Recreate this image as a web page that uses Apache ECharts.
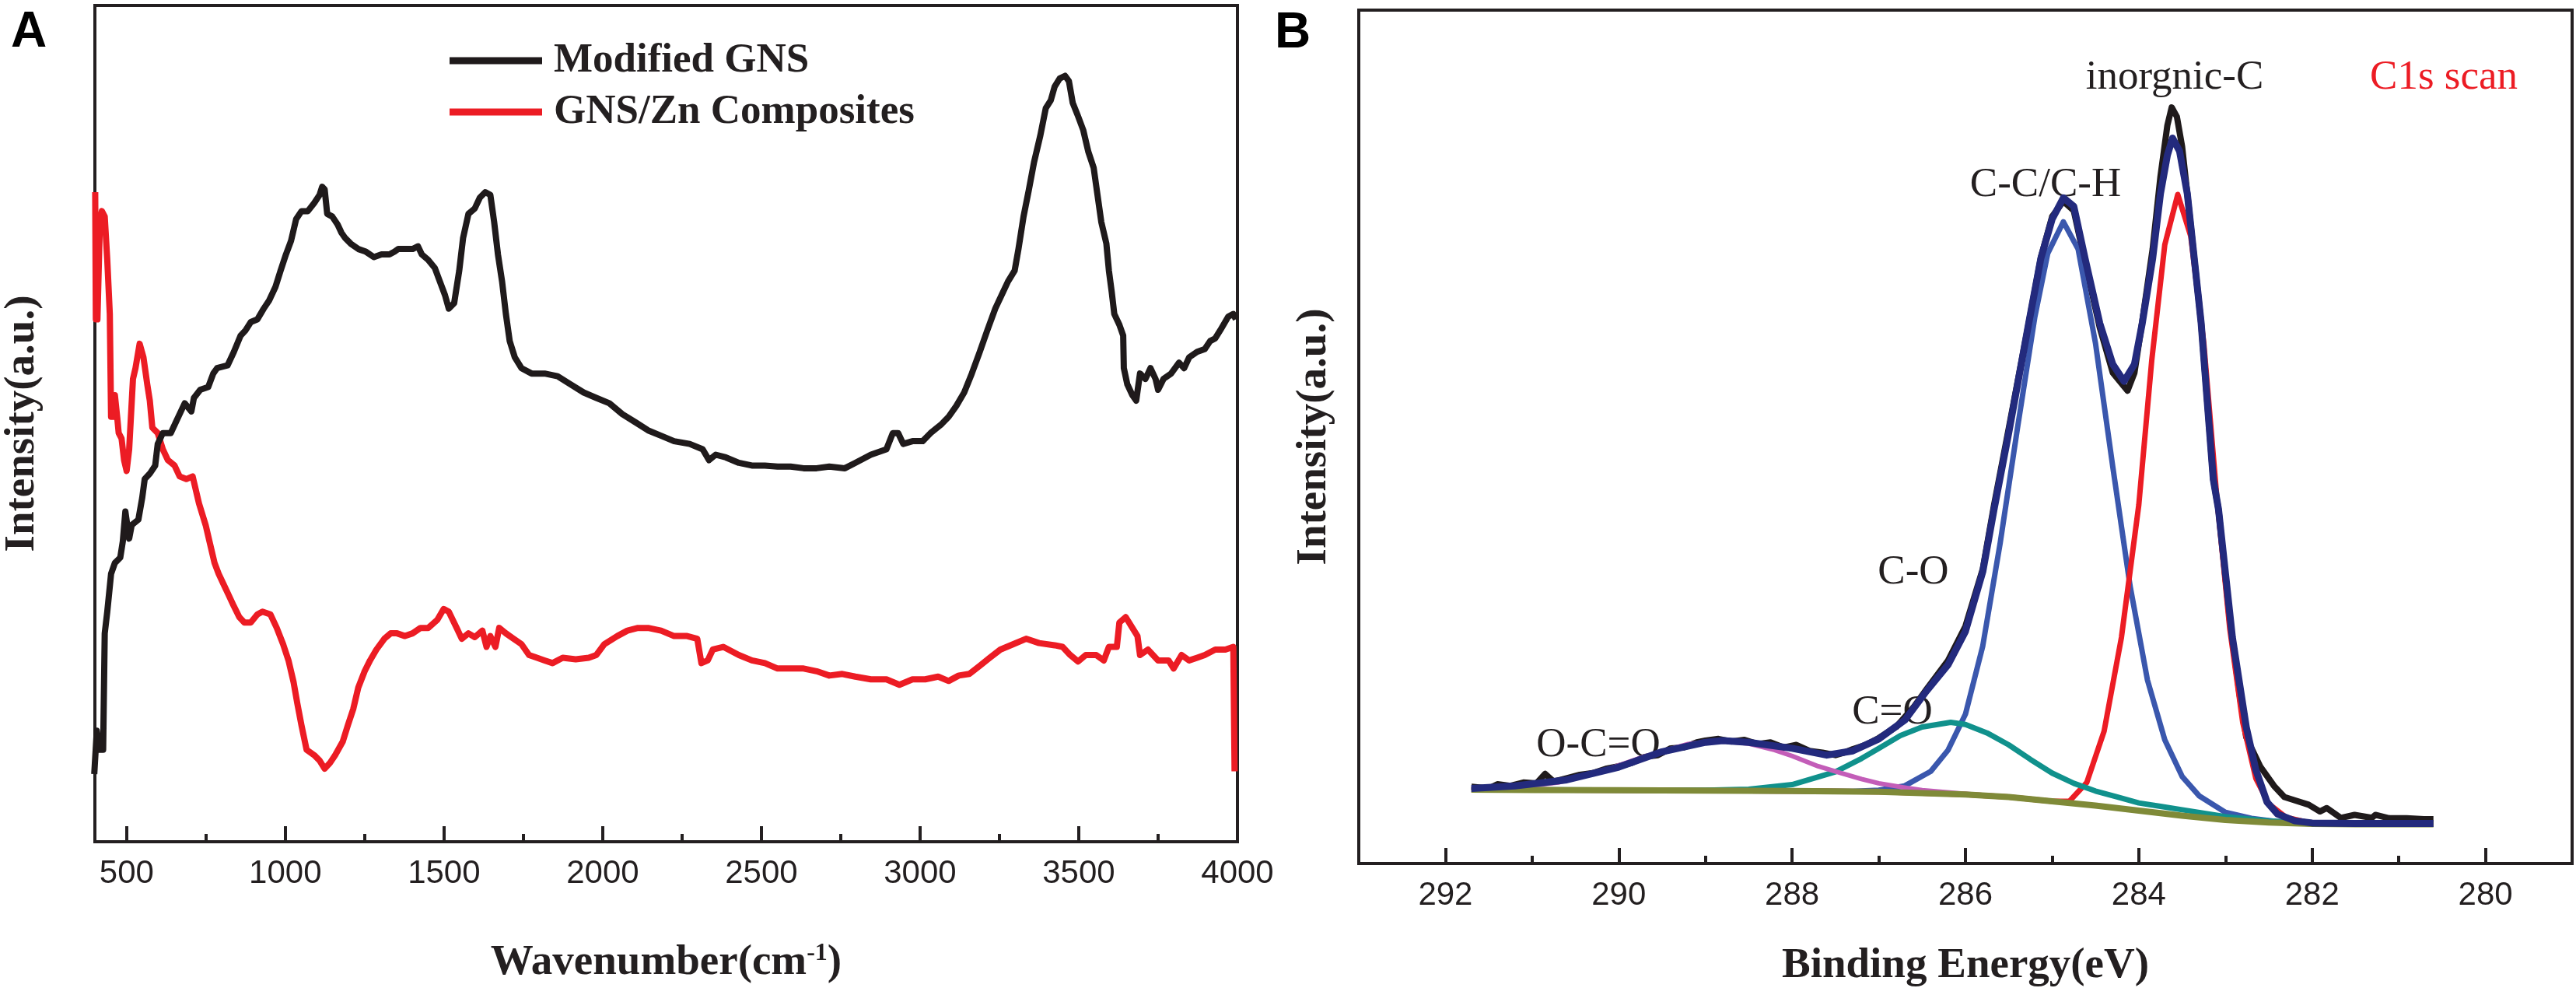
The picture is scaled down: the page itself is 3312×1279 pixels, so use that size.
<!DOCTYPE html>
<html>
<head>
<meta charset="utf-8">
<title>FTIR spectra and C1s XPS scan</title>
<script src="https://cdn.jsdelivr.net/npm/echarts@6/dist/echarts.min.js"></script>
<style>
  html, body { margin: 0; padding: 0; background: #fff; }
  #chart { width: 3312px; height: 1279px; }
</style>
</head>
<body>
<div id="chart"></div>
<script>
// ---- panel A: FTIR, [wavenumber cm-1, intensity a.u.] ----
const modifiedGNS = [
  [398,125],[406,205],[414,170],[426,170],[431,385],[439,425],[451,495],[463,515],[480,525],[488,555],
  [496,610],[508,560],[516,585],[537,595],[549,635],[557,670],[573,680],[590,695],[598,735],[614,755],
  [639,755],[655,775],[683,810],[704,795],[712,820],[732,835],[757,840],[773,865],[785,875],[818,880],
  [838,905],[859,935],[875,945],[891,960],[912,965],[932,985],[949,1000],[969,1025],[985,1055],[1002,1085],
  [1018,1110],[1034,1150],[1051,1165],[1071,1165],[1091,1180],[1108,1195],[1116,1210],[1124,1205],[1132,1160],[1148,1155],
  [1165,1140],[1177,1125],[1189,1115],[1206,1105],[1230,1095],[1254,1090],[1279,1080],[1303,1085],[1328,1085],[1344,1090],
  [1356,1095],[1377,1095],[1401,1095],[1418,1100],[1430,1085],[1450,1075],[1471,1060],[1487,1035],[1503,1010],[1515,985],
  [1532,995],[1548,1055],[1560,1115],[1577,1160],[1597,1170],[1613,1190],[1630,1200],[1646,1195],[1658,1145],[1670,1085],
  [1683,1035],[1695,975],[1707,925],[1723,895],[1744,875],[1776,865],[1817,865],[1858,860],[1899,845],[1940,830],
  [1980,820],[2021,810],[2062,790],[2103,775],[2143,760],[2184,750],[2225,740],[2274,735],[2315,725],[2335,705],
  [2356,715],[2388,710],[2429,700],[2470,695],[2511,695],[2551,693],[2592,693],[2633,690],[2674,690],[2714,693],
  [2763,690],[2796,700],[2845,715],[2894,725],[2914,755],[2931,755],[2947,735],[2976,740],[3008,740],[3033,755],
  [3065,770],[3090,785],[3114,805],[3139,830],[3163,865],[3188,905],[3212,945],[3237,985],[3257,1010],[3277,1035],
  [3298,1055],[3310,1095],[3326,1155],[3343,1205],[3359,1255],[3379,1305],[3396,1355],[3412,1370],[3424,1395],[3440,1410],
  [3457,1415],[3469,1405],[3481,1365],[3498,1340],[3514,1315],[3530,1275],[3547,1245],[3559,1195],[3571,1145],[3587,1105],
  [3595,1055],[3604,1015],[3612,975],[3628,955],[3640,935],[3642,875],[3653,845],[3669,825],[3681,815],[3693,865],
  [3710,855],[3726,875],[3742,855],[3750,835],[3767,855],[3791,865],[3816,885],[3832,875],[3848,895],[3873,905],
  [3897,910],[3914,925],[3930,930],[3946,945],[3971,970],[3987,975],[3995,965]
];
const gnsZnComposites = [
  [401,1200],[403,965],[408,965],[416,1150],[422,1165],[431,1155],[439,1075],[447,975],[451,785],[459,785],
  [463,825],[471,780],[475,755],[484,745],[492,705],[500,685],[508,725],[520,855],[528,875],[541,920],
  [553,895],[565,845],[573,815],[581,765],[598,755],[614,725],[630,705],[651,695],[667,675],[688,670],
  [708,675],[728,625],[749,585],[761,555],[777,515],[790,495],[806,475],[822,455],[838,435],[855,415],
  [871,405],[891,405],[912,420],[928,425],[953,420],[973,395],[993,365],[1010,335],[1026,295],[1038,255],
  [1051,215],[1067,170],[1091,160],[1108,150],[1124,135],[1140,145],[1157,160],[1181,185],[1197,215],[1214,245],
  [1230,285],[1250,315],[1267,335],[1287,355],[1312,375],[1332,385],[1352,385],[1377,380],[1401,385],[1426,395],
  [1450,395],[1479,410],[1499,430],[1515,425],[1540,395],[1556,375],[1577,385],[1597,378],[1621,390],[1634,360],
  [1646,380],[1662,360],[1674,395],[1695,385],[1719,375],[1744,365],[1768,345],[1793,340],[1817,335],[1842,330],
  [1874,340],[1915,337],[1956,340],[1980,345],[2005,365],[2046,380],[2078,390],[2111,395],[2143,395],[2184,390],
  [2225,380],[2266,380],[2298,375],[2311,330],[2331,335],[2347,355],[2380,360],[2429,345],[2470,335],[2511,330],
  [2551,320],[2592,320],[2633,320],[2674,315],[2714,307],[2755,310],[2796,305],[2845,300],[2894,300],[2935,290],
  [2976,300],[3016,300],[3057,305],[3090,297],[3122,307],[3155,310],[3188,325],[3220,340],[3253,355],[3294,365],
  [3334,375],[3375,367],[3424,363],[3449,360],[3473,345],[3498,333],[3522,345],[3555,345],[3579,335],[3595,360],
  [3620,360],[3628,405],[3648,415],[3669,395],[3685,380],[3693,345],[3718,355],[3750,335],[3783,335],[3799,320],
  [3824,345],[3848,335],[3873,340],[3897,345],[3930,355],[3962,355],[3987,360],[3991,130]
];
const ftirLabelValues = [500, 1000, 1500, 2000, 2500, 3000, 3500, 4000];
const ftirMinorTicks = [750, 1250, 1750, 2250, 2750, 3250, 3750];

// ---- panel B: C1s XPS, [binding energy eV, intensity a.u.] ----
const c1sRaw = [
  [291.7,9.0],[291.5,8.8],[291.4,9.3],[291.25,9.1],[291.1,9.5],[290.95,9.4],[290.85,10.5],[290.75,9.6],[290.6,10.0],[290.45,10.4],
  [290.3,10.6],[290.15,11.1],[290,11.4],[289.85,11.8],[289.7,12.5],[289.55,12.7],[289.4,13.5],[289.25,13.6],[289.1,14.2],[289,14.4],
  [288.85,14.6],[288.7,14.3],[288.55,14.5],[288.4,14.0],[288.25,14.2],[288.1,13.6],[287.95,13.9],[287.8,13.2],[287.65,13.0],[287.5,12.7],
  [287.4,13.0],[287.3,13.4],[287.15,13.9],[287,14.7],[286.8,16],[286.6,18.3],[286.45,20.4],[286.2,23.8],[286,27.8],[285.8,34.5],
  [285.67,42],[285.5,51],[285.27,63.3],[285.13,71],[285,75.8],[284.87,77.6],[284.75,76.5],[284.62,70.5],[284.45,62.8],[284.3,57.5],
  [284.13,55.4],[284.05,57.5],[283.96,63.5],[283.84,72],[283.75,80.5],[283.67,86.5],[283.62,88.6],[283.56,87.5],[283.5,84],[283.44,78.5],
  [283.28,63.3],[283.14,45],[283.08,41.5],[282.95,28.5],[282.84,20],[282.76,14.8],[282.6,11.4],[282.44,9.1],[282.32,7.8],[282.2,7.4],
  [282.04,6.9],[281.91,6.1],[281.83,6.5],[281.67,5.35],[281.51,5.7],[281.31,5.35],[281.27,5.7],[281.11,5.3],[280.91,5.3],[280.71,5.2],
  [280.6,5.2]
];
const c1sEnvelope = [
  [291.7,8.8],[291.2,9.1],[290.6,9.8],[290,11.3],[289.5,13.1],[289,14.2],[288.8,14.4],[288.5,14.2],[288,13.5],[287.6,12.7],
  [287.3,13.2],[287,14.6],[286.7,16.8],[286.45,20.2],[286.2,23.3],[286,27.2],[285.8,34.2],[285.67,41.5],[285.5,50.5],[285.27,63.3],
  [285.13,70.9],[285,75.5],[284.87,78],[284.75,77],[284.62,70.9],[284.45,63.3],[284.3,58.5],[284.17,56.5],[284.05,58.5],[283.96,63.3],
  [283.84,70.9],[283.75,78.5],[283.67,83],[283.61,85],[283.53,83.5],[283.44,78.5],[283.28,63.3],[283.14,45],[283.08,41.5],[282.92,26.5],
  [282.76,16],[282.65,11],[282.52,7.2],[282.4,5.8],[282.2,5.0],[282,4.75],[281.5,4.7],[280.6,4.7]
];
const inorganicC = [
  [291.7,8.65],[290,8.6],[289,8.55],[288,8.5],[287,8.4],[286,8.1],[285.5,7.8],[285,7.3],[284.8,7.3],[284.6,9.5],
  [284.4,15.5],[284.2,26.5],[284,42],[283.85,59],[283.7,72.5],[283.55,78.4],[283.4,73.5],[283.25,61],[283.1,43],[282.95,27.5],
  [282.8,16.5],[282.65,10],[282.5,7.0],[282.3,5.4],[282,4.7],[281.5,4.6],[280.6,4.6]
];
const ccCh = [
  [291.7,8.65],[289,8.55],[288,8.5],[287.3,8.45],[287,8.6],[286.7,9.1],[286.4,10.8],[286.2,13.3],[286,17.5],[285.8,25.5],
  [285.6,37.5],[285.4,51],[285.2,64],[285.05,71.5],[284.87,75.2],[284.7,72],[284.5,61],[284.3,46.5],[284.1,32.5],[283.9,21.5],
  [283.7,14.5],[283.5,10.2],[283.3,7.9],[283,6.0],[282.7,5.3],[282.4,4.9],[282,4.65],[280.6,4.6]
];
const cO = [
  [291.7,8.65],[289.5,8.6],[289,8.6],[288.5,8.7],[288,9.25],[287.5,10.75],[287.2,12.3],[287,13.5],[286.75,15.0],[286.5,16.0],
  [286.17,16.55],[286,16.3],[285.75,15.3],[285.5,13.9],[285.25,12.2],[285,10.6],[284.75,9.4],[284.5,8.5],[284.25,7.8],[284,7.1],
  [283.75,6.7],[283.5,6.3],[283,5.5],[282.5,5.0],[282,4.75],[281.5,4.65],[280.6,4.6]
];
const ocoCo = [
  [291.7,8.65],[291.2,8.9],[290.7,9.5],[290.2,10.8],[289.7,12.55],[289.2,14.0],[288.85,14.4],[288.5,14.05],[288.2,13.3],[288,12.6],
  [287.7,11.4],[287.5,10.8],[287.2,9.9],[287,9.4],[286.7,8.9],[286.5,8.6],[286,8.15],[285.5,7.8],[285,7.3],[284.5,6.8],
  [284,6.2],[283.5,5.6],[283,5.1],[282.5,4.8],[282,4.65],[280.6,4.6]
];
const background = [
  [291.7,8.65],[291,8.62],[290,8.6],[289,8.55],[288,8.5],[287,8.4],[286.5,8.25],[286,8.1],[285.5,7.8],[285,7.3],
  [284.5,6.8],[284,6.2],[283.5,5.6],[283,5.1],[282.5,4.8],[282,4.65],[281.5,4.6],[280.6,4.6]
];
const xpsLabelValues = [280, 282, 284, 286, 288, 290, 292];
const xpsMinorTicks = [281, 283, 285, 287, 289, 291];

const INK = '#231f20';
const SERIF = '"Liberation Serif", "Times New Roman", serif';
const SANS = '"Liberation Sans", Arial, sans-serif';

const chart = echarts.init(document.getElementById('chart'));

function bottomAxis(gridIndex, min, max, inverse, majors, labels) {
  return {
    type: 'value', gridIndex, min, max, inverse, position: 'bottom',
    axisLine: { lineStyle: { color: INK, width: 4 } },
    axisTick: { inside: true, length: 20, customValues: majors, lineStyle: { color: INK, width: 4 } },
    axisLabel: {
      customValues: labels, margin: 20, color: INK, fontSize: 42, fontFamily: SANS,
      formatter: v => String(v)
    },
    splitLine: { show: false }
  };
}
function minorAxis(gridIndex, min, max, inverse, ticks) {
  return {
    type: 'value', gridIndex, min, max, inverse, position: 'bottom',
    axisLine: { show: false },
    axisTick: { inside: true, length: 10, customValues: ticks, lineStyle: { color: INK, width: 4 } },
    axisLabel: { show: false },
    splitLine: { show: false }
  };
}
function line(name, data, color, width, xIdx, yIdx, z) {
  return {
    name, type: 'line', data, xAxisIndex: xIdx, yAxisIndex: yIdx, z,
    showSymbol: false, symbol: 'none', color,
    lineStyle: { color, width, join: 'round' }
  };
}
const boldName = {
  color: INK, fontFamily: SERIF, fontWeight: 'bold', fontSize: 55,
  rich: { sup: { color: INK, fontFamily: SERIF, fontWeight: 'bold', fontSize: 32, verticalAlign: 'top', lineHeight: 34 } }
};
function label(text, x, y, color, font) {
  return {
    type: 'text', x, y, silent: true,
    style: { text, fill: color, font, align: 'center', verticalAlign: 'middle', textAlign: 'center', textVerticalAlign: 'middle' }
  };
}

const xpsFont = '53px ' + SERIF;

chart.setOption({
  animation: false,
  backgroundColor: '#fff',
  grid: [
    { left: 121, top: 7, width: 1470, height: 1075, show: true, borderColor: INK, borderWidth: 4 },
    { left: 1747, top: 13, width: 1560, height: 1097, show: true, borderColor: INK, borderWidth: 4 }
  ],
  legend: {
    data: ['Modified GNS', 'GNS/Zn Composites'],
    orient: 'vertical', left: 573, top: 45,
    icon: 'rect', itemWidth: 119, itemHeight: 9, itemGap: 10,
    textStyle: { color: INK, fontFamily: SERIF, fontWeight: 'bold', fontSize: 53, lineHeight: 56, padding: [0, 0, 0, 10] }
  },
  xAxis: [
    Object.assign(bottomAxis(0, 400, 4000, false, ftirLabelValues, ftirLabelValues), {
      name: 'Wavenumber(cm{sup|-1})', nameLocation: 'middle', nameGap: 128, nameTextStyle: boldName
    }),
    minorAxis(0, 400, 4000, false, ftirMinorTicks),
    Object.assign(bottomAxis(1, 279, 293, true, xpsLabelValues, xpsLabelValues), {
      name: 'Binding Energy(eV)', nameLocation: 'middle', nameGap: 104, nameTextStyle: boldName
    }),
    minorAxis(1, 279, 293, true, xpsMinorTicks)
  ],
  yAxis: [
    {
      type: 'value', gridIndex: 0, min: 0, max: 1545,
      axisLine: { show: true, lineStyle: { color: INK, width: 4 } },
      axisTick: { show: false }, axisLabel: { show: false }, splitLine: { show: false },
      name: 'Intensity(a.u.)', nameLocation: 'middle', nameRotate: 90, nameGap: 66, nameTextStyle: boldName
    },
    {
      type: 'value', gridIndex: 1, min: 0, max: 100,
      axisLine: { show: true, lineStyle: { color: INK, width: 4 } },
      axisTick: { show: false }, axisLabel: { show: false }, splitLine: { show: false },
      name: 'Intensity(a.u.)', nameLocation: 'middle', nameRotate: 90, nameGap: 30, nameTextStyle: boldName
    }
  ],
  series: [
    line('Modified GNS', modifiedGNS, '#1f1a1b', 8, 0, 0, 3),
    line('GNS/Zn Composites', gnsZnComposites, '#ec1c24', 8, 0, 0, 2),
    line('Raw data', c1sRaw, '#1f1a1b', 8, 2, 1, 2),
    line('C-C/C-H', ccCh, '#3a57ad', 7, 2, 1, 3),
    line('inorganic-C', inorganicC, '#ec1c24', 7, 2, 1, 4),
    line('C-O', cO, '#10918c', 7, 2, 1, 5),
    line('O-C=O / C=O', ocoCo, '#c35db8', 6, 2, 1, 6),
    line('Background', background, '#7f8a38', 8, 2, 1, 7),
    line('Fitted envelope', c1sEnvelope, '#232a7d', 9, 2, 1, 8)
  ],
  graphic: [
    label('A', 37, 42, '#000', 'bold 64px ' + SANS),
    label('B', 1662, 43, '#000', 'bold 64px ' + SANS),
    label('inorgnic-C', 2796, 100, INK, xpsFont),
    label('C1s scan', 3142, 100, '#ec1c24', xpsFont),
    label('C-C/C-H', 2630, 238, INK, xpsFont),
    label('C-O', 2460, 736, INK, xpsFont),
    label('C=O', 2433, 916, INK, xpsFont),
    label('O-C=O', 2055, 958, INK, xpsFont)
  ]
});
</script>
</body>
</html>
